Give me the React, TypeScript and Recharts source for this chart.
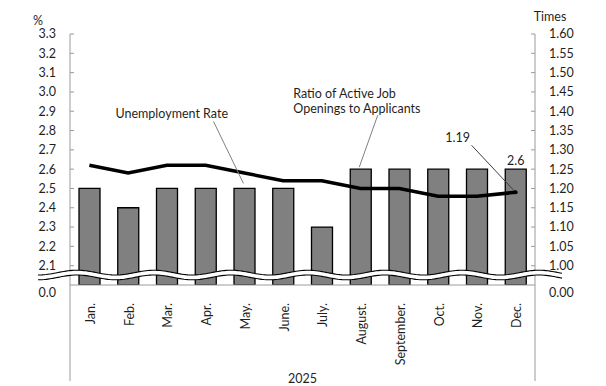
import React from 'react';
import { ComposedChart, Bar, Line, XAxis, YAxis, LabelList } from 'recharts';

const months = ['Jan.', 'Feb.', 'Mar.', 'Apr.', 'May.', 'June.', 'July.', 'August.', 'September.', 'Oct.', 'Nov.', 'Dec.'];
const unemploymentRate = [2.5, 2.4, 2.5, 2.5, 2.5, 2.5, 2.3, 2.6, 2.6, 2.6, 2.6, 2.6];
const jobRatio = [1.26, 1.24, 1.26, 1.26, 1.24, 1.22, 1.22, 1.2, 1.2, 1.18, 1.18, 1.19];

const leftTickValues = [2.0, 2.1, 2.2, 2.3, 2.4, 2.5, 2.6, 2.7, 2.8, 2.9, 3.0, 3.1, 3.2, 3.3];
const leftTickLabels = ['0.0', '2.1', '2.2', '2.3', '2.4', '2.5', '2.6', '2.7', '2.8', '2.9', '3.0', '3.1', '3.2', '3.3'];
const rightTickValues = [0.95, 1.0, 1.05, 1.1, 1.15, 1.2, 1.25, 1.3, 1.35, 1.4, 1.45, 1.5, 1.55, 1.6];
const rightTickLabels = ['0.00', '1.00', '1.05', '1.10', '1.15', '1.20', '1.25', '1.30', '1.35', '1.40', '1.45', '1.50', '1.55', '1.60'];

const yearLabel = '2025';
const barSeriesName = 'Unemployment Rate';
const lineSeriesName = ['Ratio of Active Job', 'Openings to Applicants'];

const data = months.map((m, i) => ({ month: m, rate: unemploymentRate[i], ratio: jobRatio[i] }));

const FONT = 'Lato, "Liberation Sans", sans-serif';
const FS = 12.5;
const TEXT = '#1f1f1f';
const AXIS = '#9a9a9a';

const findIdx = (vals: number[], v: number) => vals.findIndex((t) => Math.abs(t - v) < 1e-6);

const LeftTick = (props: any) => {
  const { x, y, payload } = props;
  const i = findIdx(leftTickValues, Number(payload.value));
  const isBase = i === 0;
  return (
    <g>
      {!isBase && <line x1={x} y1={y} x2={x + 4} y2={y} stroke={AXIS} strokeWidth={1} />}
      <text x={x - 14} y={y + (isBase ? 8 : 0)} dy="0.35em" textAnchor="end" fontSize={FS} fontFamily={FONT} fill={TEXT}>
        {leftTickLabels[i]}
      </text>
    </g>
  );
};

const RightTick = (props: any) => {
  const { x, y, payload } = props;
  const i = findIdx(rightTickValues, Number(payload.value));
  const isBase = i === 0;
  return (
    <g>
      {!isBase && <line x1={x - 4} y1={y} x2={x} y2={y} stroke={AXIS} strokeWidth={1} />}
      <text x={x + 14} y={y + (isBase ? 8 : 0)} dy="0.35em" textAnchor="start" fontSize={FS} fontFamily={FONT} fill={TEXT}>
        {rightTickLabels[i]}
      </text>
    </g>
  );
};

const MonthTick = (props: any) => {
  const { x, y, payload } = props;
  return (
    <g transform={`translate(${x + 1},${y + 10})`}>
      <text transform="rotate(-90)" textAnchor="end" dy="0.35em" fontSize={FS} fontFamily={FONT} fill={TEXT}>
        {payload.value}
      </text>
    </g>
  );
};

const BarNotes = (props: any) => {
  const { x, y, width, index, value } = props;
  const cx = x + width / 2;
  if (index === 11) {
    return (
      <text x={cx} y={y - 9} dy="0.35em" textAnchor="middle" fontSize={FS} fontFamily={FONT} fill={TEXT}>
        {value}
      </text>
    );
  }
  if (index === 4) {
    return (
      <g>
        <line x1={cx - 31} y1={y - 67} x2={cx - 1} y2={y - 5} stroke="#808080" strokeWidth={1} />
        <text x={cx - 129} y={y - 75} dy="0.35em" textAnchor="start" fontSize={FS} fontFamily={FONT} fill={TEXT}>
          {barSeriesName}
        </text>
      </g>
    );
  }
  if (index === 7) {
    return (
      <g>
        <line x1={cx + 17} y1={y - 54} x2={cx - 1.5} y2={y - 2} stroke="#808080" strokeWidth={1} />
        <text x={cx - 67.5} y={y - 76} dy="0.35em" textAnchor="start" fontSize={FS} fontFamily={FONT} fill={TEXT}>
          {lineSeriesName[0]}
        </text>
        <text x={cx - 67.5} y={y - 61} dy="0.35em" textAnchor="start" fontSize={FS} fontFamily={FONT} fill={TEXT}>
          {lineSeriesName[1]}
        </text>
      </g>
    );
  }
  return null;
};

const LineNote = (props: any) => {
  const { x, y, index, value } = props;
  if (index !== 11) return null;
  return (
    <g>
      <line x1={x - 44} y1={y - 47} x2={x} y2={y} stroke="#404040" strokeWidth={1} />
      <circle cx={x} cy={y} r={2} fill="#000" />
      <text x={x - 58} y={y - 55} dy="0.35em" textAnchor="middle" fontSize={FS} fontFamily={FONT} fill={TEXT}>
        {Number(value).toFixed(2)}
      </text>
    </g>
  );
};

function wavePath(x0: number, x1: number, yc: number, amp: number, period: number, phaseX: number, off: number) {
  const pts: string[] = [];
  for (let x = x0; x <= x1; x += 2) {
    const yy = yc + off - amp * Math.cos((2 * Math.PI * (x - phaseX)) / period);
    pts.push(`${x},${yy.toFixed(2)}`);
  }
  return pts;
}

const Overlay = () => {
  const top = wavePath(38, 562, 275, 2.4, 77, 77, -2.4);
  const bot = wavePath(38, 562, 275, 2.4, 77, 77, 2.4);
  const band = `M${top.join(' L')} L${bot.slice().reverse().join(' L')} Z`;
  return (
    <svg width={606} height={386} style={{ position: 'absolute', left: 0, top: 0, pointerEvents: 'none' }}>
      <line x1={70} y1={285} x2={70} y2={381} stroke={AXIS} strokeWidth={1} />
      <line x1={535} y1={285} x2={535} y2={381} stroke={AXIS} strokeWidth={1} />
      <path d={band} fill="#fff" stroke="none" />
      <path d={`M${top.join(' L')}`} fill="none" stroke="#000" strokeWidth={1.1} />
      <path d={`M${bot.join(' L')}`} fill="none" stroke="#000" strokeWidth={1.1} />
      <text x={38} y={21} dy="0.35em" textAnchor="middle" fontSize={FS} fontFamily={FONT} fill={TEXT}>%</text>
      <text x={550} y={17} dy="0.35em" textAnchor="middle" fontSize={FS} fontFamily={FONT} fill={TEXT}>Times</text>
      <text x={302.5} y={379} dy="0.35em" textAnchor="middle" fontSize={FS} fontFamily={FONT} fill={TEXT}>{yearLabel}</text>
    </svg>
  );
};

export default function App() {
  return (
    <div style={{ position: 'absolute', left: 0, top: 0, width: 606, height: 386, background: '#fff' }}>
      <ComposedChart width={606} height={386} data={data} margin={{ top: 34, right: 11, bottom: 0, left: 10 }}>
        <XAxis
          dataKey="month"
          interval={0}
          height={101}
          axisLine={{ stroke: AXIS, strokeWidth: 1 }}
          tickLine={false}
          tick={<MonthTick />}
        />
        <YAxis
          yAxisId="left"
          orientation="left"
          width={60}
          domain={[2.0, 3.3]}
          ticks={leftTickValues}
          interval={0}
          allowDataOverflow
          axisLine={{ stroke: AXIS, strokeWidth: 1 }}
          tickLine={false}
          tickSize={0}
          tickMargin={0}
          tick={<LeftTick />}
        />
        <YAxis
          yAxisId="right"
          orientation="right"
          width={60}
          domain={[0.95, 1.6]}
          ticks={rightTickValues}
          interval={0}
          allowDataOverflow
          axisLine={{ stroke: AXIS, strokeWidth: 1 }}
          tickLine={false}
          tickSize={0}
          tickMargin={0}
          tick={<RightTick />}
        />
        <Bar yAxisId="left" dataKey="rate" fill="#808080" stroke="#000" strokeWidth={1.3} barSize={21} isAnimationActive={false}>
          <LabelList dataKey="rate" content={<BarNotes />} />
        </Bar>
        <Line yAxisId="right" dataKey="ratio" type="linear" stroke="#000" strokeWidth={3.5} dot={false} isAnimationActive={false}>
          <LabelList dataKey="ratio" content={<LineNote />} />
        </Line>
      </ComposedChart>
      <Overlay />
    </div>
  );
}
